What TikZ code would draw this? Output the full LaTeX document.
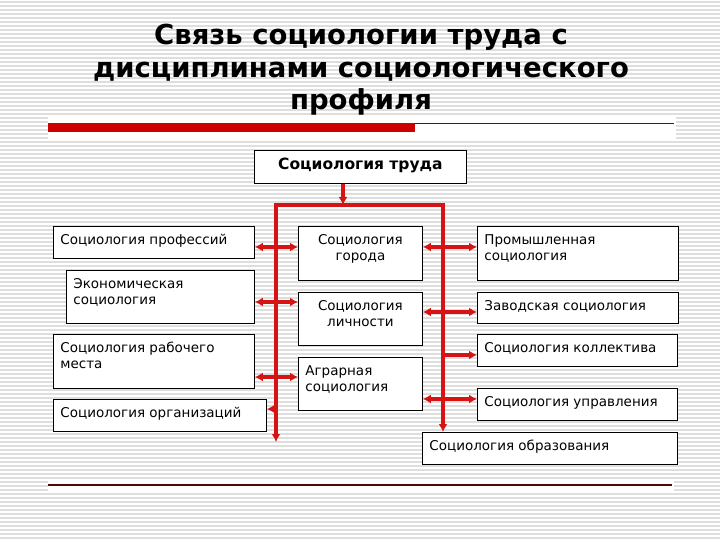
\documentclass[tikz,border=0pt]{standalone}
\usepackage{fontspec}
\setmainfont{DejaVu Sans}
\usetikzlibrary{arrows.meta}

\definecolor{linkred}{RGB}{215,20,20}
\definecolor{barred}{RGB}{204,0,0}
\definecolor{rulered}{RGB}{110,10,10}
\definecolor{stripe}{RGB}{222,222,222}

\newcommand{\boxtext}[4]{\parbox[c][#2pt][t]{\dimexpr#1pt-14pt\relax}{#3\vspace*{8pt}#4\par}}

\tikzset{
  disc/.style={draw, line width=0.8pt, fill=white, inner xsep=7pt, inner ysep=0pt,
    anchor=north west, font=\fontsize{13.5}{16}\selectfont},
  link/.style={draw=linkred, line width=3.4pt},
  tip/.style={-{Latex[length=8pt,width=9pt]}},
  twotips/.style={{Latex[length=8pt,width=9pt]}-{Latex[length=8pt,width=9pt]}}
}

\begin{document}
\begin{tikzpicture}[x=1pt,y=-1pt]
  \useasboundingbox (0,0) rectangle (720,540);
  \fill[white] (0,0) rectangle (720,540);
  \foreach \y in {2,6,...,538} \draw[stripe, line width=1.2pt] (0,\y) -- (720,\y);
  \fill[white] (48,117) rectangle (676,140);
  \fill[white] (48,479) rectangle (674,492);

  % heading
  \node[anchor=north, inner sep=0pt, align=center,
    font=\bfseries\fontsize{27.5}{32.5}\selectfont] (title) at (361,24)
    {Связь социологии труда с\\дисциплинами социологического\\профиля};
  \fill[barred] (48,123) rectangle (415,132);
  \draw[rulered, line width=1pt] (415,124) -- (674,124);
  \draw[rulered!70!black, line width=1.3pt] (48,485) -- (672,485);

  \node[disc, font=\bfseries\fontsize{15.5}{18}\selectfont] (trud) at (254,150)
    {\boxtext{212}{33}{\centering}{Социология труда}};

  % left column
  \node[disc] (prof) at (53,226) {\boxtext{201}{32}{\raggedright}{Социология профессий}};
  \node[disc] (econ) at (66,270) {\boxtext{188}{53}{\raggedright}{Экономическая\\социология}};
  \node[disc] (rab) at (53,334) {\boxtext{201}{54}{\raggedright}{Социология рабочего\\места}};
  \node[disc] (org) at (53,399) {\boxtext{213}{32}{\raggedright}{Социология организаций}};

  % middle column
  \node[disc] (gor) at (298,226) {\boxtext{124}{54}{\centering}{Социология\\города}};
  \node[disc] (lich) at (298,292) {\boxtext{124}{53}{\centering}{Социология\\личности}};
  \node[disc] (agr) at (298,357) {\boxtext{124}{53}{\raggedright}{Аграрная\\социология}};

  % right column
  \node[disc] (prom) at (477,226) {\boxtext{201}{54}{\raggedright}{Промышленная\\социология}};
  \node[disc] (zav) at (477,292) {\boxtext{201}{31}{\raggedright}{Заводская социология}};
  \node[disc] (koll) at (477,334) {\boxtext{200}{32}{\raggedright}{Социология коллектива}};
  \node[disc] (upr) at (477,388) {\boxtext{200}{32}{\raggedright}{Социология управления}};
  \node[disc] (obr) at (422,432) {\boxtext{255}{32}{\raggedright}{Социология образования}};

  % red bus
  \coordinate (hub) at (343,205);
  \coordinate (busL) at (276,205);
  \coordinate (busR) at (443,205);
  \coordinate (endL) at (276,442);
  \draw[link, tip] (trud.south -| hub) -- (hub);
  \draw[link, twotips] (endL) -- (busL) -- (busR) -- (busR |- obr.north);

  \draw[link, twotips] (prof.east |- 0,247) -- (gor.west |- 0,247);
  \draw[link, twotips] (gor.east |- 0,247) -- (prom.west |- 0,247);
  \draw[link, twotips] (econ.east |- 0,302) -- (lich.west |- 0,302);
  \draw[link, twotips] (lich.east |- 0,312) -- (zav.west |- 0,312);
  \draw[link, twotips] (rab.east |- 0,377) -- (agr.west |- 0,377);
  \draw[link, twotips] (agr.east |- 0,399) -- (upr.west |- 0,399);
  \draw[link, tip] (endL |- 0,409) -- (org.east |- 0,409);
  \draw[link, tip] (busR |- 0,355) -- (koll.west |- 0,355);
\end{tikzpicture}
\end{document}
